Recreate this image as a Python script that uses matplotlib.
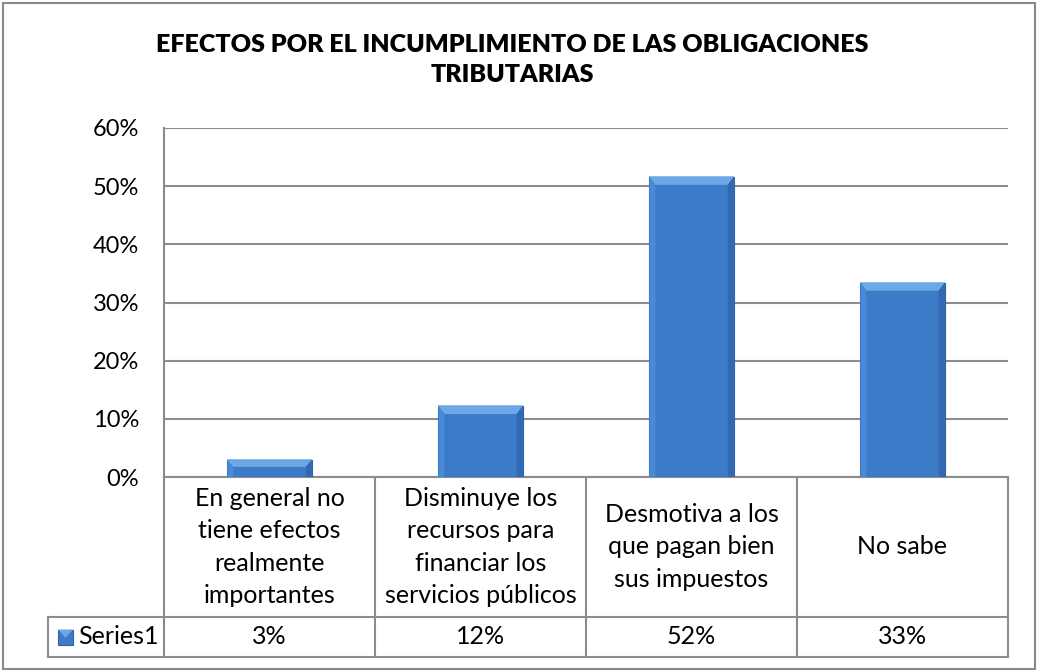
import numpy as np
import matplotlib
matplotlib.use("Agg")
import matplotlib.pyplot as plt
from matplotlib.patches import Rectangle, Polygon
from matplotlib.transforms import blended_transform_factory

# data
categories = [
    "En general no\ntiene efectos\nrealmente\nimportantes",
    "Disminuye los\nrecursos para\nfinanciar los\nservicios públicos",
    "Desmotiva a los\nque pagan bien\nsus impuestos",
    "No sabe",
]
values = [0.029, 0.122, 0.516, 0.334]
series_name = "Series1"
yticks = [0.0, 0.1, 0.2, 0.3, 0.4, 0.5, 0.6]
title = "EFECTOS POR EL INCUMPLIMIENTO DE LAS OBLIGACIONES\nTRIBUTARIAS"

plt.rcParams['font.family'] = ['Lato', 'DejaVu Sans']

W, H = 1037, 671
fig = plt.figure(figsize=(W / 100, H / 100), dpi=100)
fig.patch.set_facecolor("white")

def fx(x):
    return x / W

def fy(y):
    return 1 - y / H

# plot area in pixels (left, top, right, bottom)
L, T, R, B = 164, 128, 1008, 477
ax = fig.add_axes([fx(L), fy(B), fx(R) - fx(L), fy(T) - fy(B)])

grid_col = "#8c8c8c"
x = np.arange(len(values))
bar_w = 0.4

face = "#3c7bc8"
ax.bar(x, values, width=bar_w, color=face, edgecolor="#2f63a6", linewidth=0.8, zorder=3)

# bevel look on each bar
px_x = 1.0 / ((R - L) / len(values))          # data units per pixel (x)
px_y = 0.6 / (B - T)                          # data units per pixel (y)
bx, by = 6 * px_x, 8 * px_y
for xi, v in zip(x, values):
    x0, x1 = xi - bar_w / 2, xi + bar_w / 2
    b_y = min(by, v / 2.5)
    ax.add_patch(Polygon([(x0, v), (x1, v), (x1 - bx, v - b_y), (x0 + bx, v - b_y)],
                         closed=True, facecolor="#6ea7e6", edgecolor="none", zorder=4))
    ax.add_patch(Polygon([(x0, v), (x0 + bx, v - b_y), (x0 + bx, 0), (x0, 0)],
                         closed=True, facecolor="#4a89d6", edgecolor="none", zorder=4))
    ax.add_patch(Polygon([(x1, v), (x1 - bx, v - b_y), (x1 - bx, 0), (x1, 0)],
                         closed=True, facecolor="#3169b3", edgecolor="none", zorder=4))
    ax.add_patch(Rectangle((x0, v), x1 - x0, 1.2 * px_y, facecolor="#8dbcef",
                           edgecolor="none", zorder=5))

ax.set_xlim(-0.5, len(values) - 0.5)
ax.set_ylim(0, 0.6)
ax.set_yticks(yticks)
ax.set_yticklabels([f"{int(round(t * 100))}%" for t in yticks])
ax.tick_params(axis="y", length=0, pad=18, labelsize=17)
ax.set_xticks([])
ax.grid(axis="y", color=grid_col, linewidth=1.5, zorder=0)
for s in ["top", "right", "bottom"]:
    ax.spines[s].set_visible(False)
ax.spines["left"].set_color(grid_col)
ax.spines["left"].set_linewidth(1.5)

# data table below the plot
tr = blended_transform_factory(ax.transData, ax.transAxes)

def ay(y):
    return (B - y) / (B - T)

row1, row2 = 617, 657
leg_left = -0.5 - (L - 48) * px_x
lkw = dict(color=grid_col, linewidth=1.5, transform=tr, clip_on=False, zorder=2)
ax.plot([-0.5, 3.5], [ay(B), ay(B)], **lkw)
ax.plot([leg_left, 3.5], [ay(row1), ay(row1)], **lkw)
ax.plot([leg_left, 3.5], [ay(row2), ay(row2)], **lkw)
ax.plot([leg_left, leg_left], [ay(row1), ay(row2)], **lkw)
for xb in np.arange(len(values) + 1) - 0.5:
    ax.plot([xb, xb], [ay(B), ay(row2)], **lkw)

for xi, cat, v in zip(x, categories, values):
    ax.text(xi, ay((B + row1) / 2), cat, transform=tr, ha="center", va="center",
            fontsize=18, linespacing=1.5, color="black")
    ax.text(xi, ay((row1 + row2) / 2), f"{int(round(v * 100))}%", transform=tr,
            ha="center", va="center", fontsize=18, color="black")

# legend key in table
key_w = 15 * px_x
key_h = 15 * px_y / 0.6
key_x = leg_left + 10 * px_x
key_y = ay((row1 + row2) / 2) - key_h / 2
ax.add_patch(Rectangle((key_x, key_y), key_w, key_h, transform=tr, clip_on=False,
                       facecolor=face, edgecolor="#2f63a6", linewidth=0.8, zorder=3))
ax.add_patch(Polygon([(key_x, key_y + key_h), (key_x + key_w, key_y + key_h),
                      (key_x + key_w / 2, key_y + key_h * 0.45)], closed=True,
                     transform=tr, clip_on=False, facecolor="#6ea7e6",
                     edgecolor="none", zorder=4))
ax.text(key_x + key_w + 5 * px_x, ay((row1 + row2) / 2), series_name, transform=tr,
        ha="left", va="center", fontsize=18, color="black")

# title
fig.text(fx(512), fy(60), title, ha="center", va="center", fontsize=18,
         fontweight="heavy", linespacing=1.45, color="black")

# outer chart border
fig.add_artist(Rectangle((fx(3), fy(669)), fx(1035) - fx(3), fy(3) - fy(669),
                         transform=fig.transFigure, fill=False, edgecolor="#8a8a8a",
                         linewidth=1.5))

fig.savefig("out.png", dpi=100)
